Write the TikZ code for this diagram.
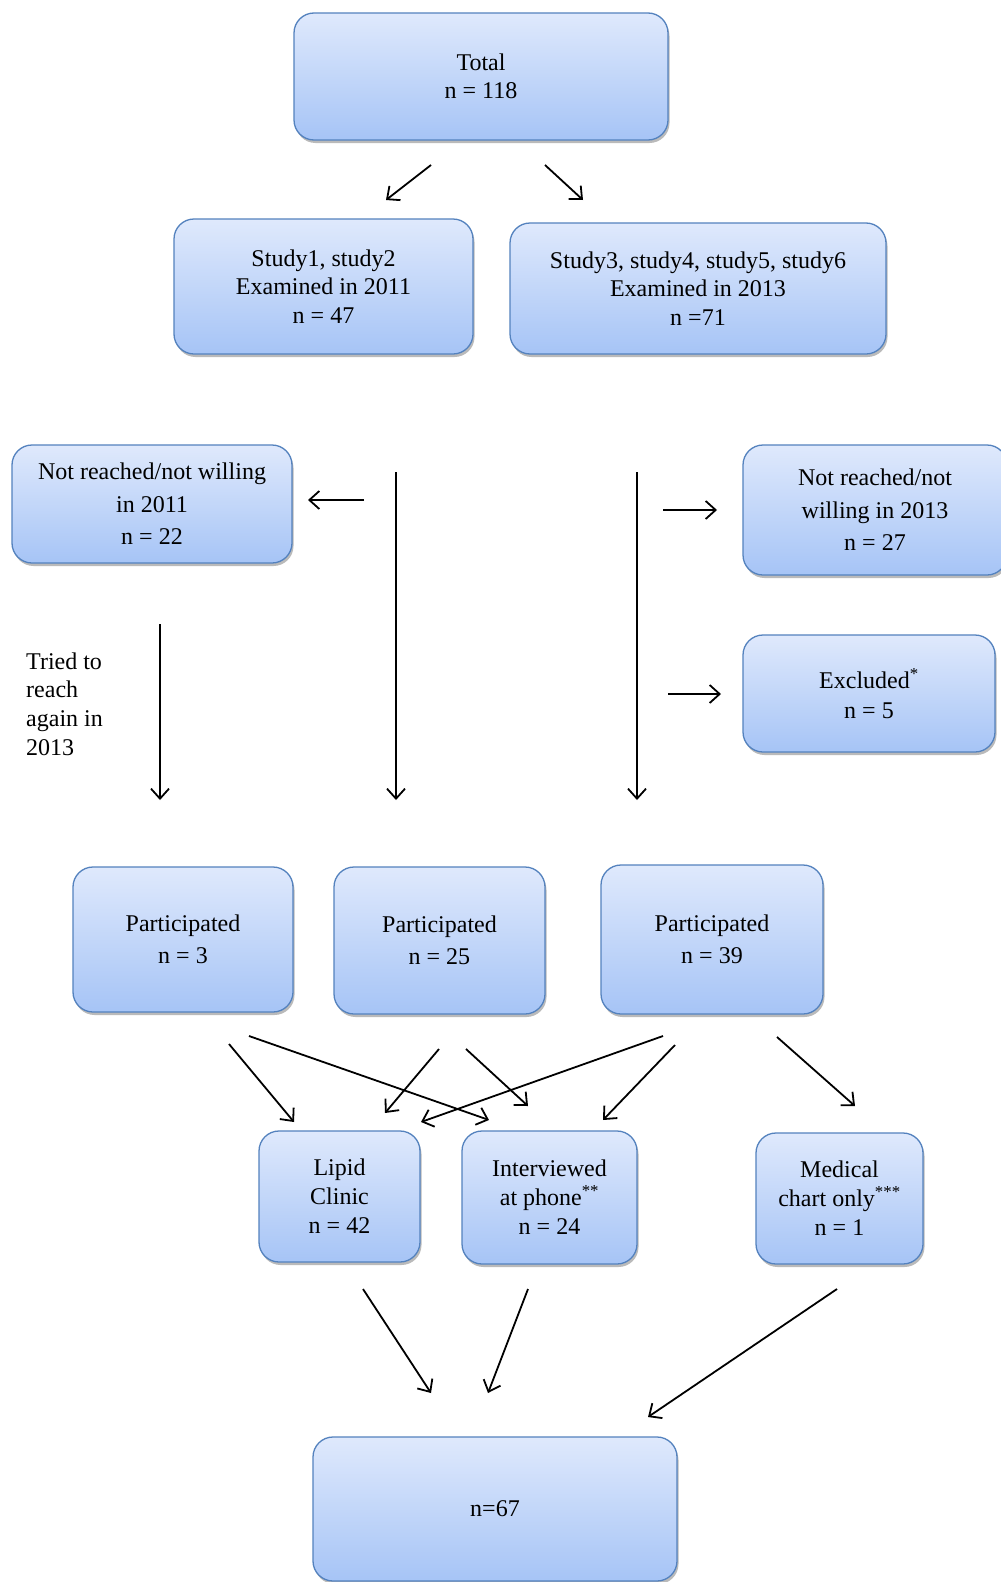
\documentclass[tikz,border=0pt]{standalone}
\usepackage{fontspec}
\setmainfont{Liberation Serif}
\usetikzlibrary{arrows.meta,shadows}
\definecolor{boxtop}{RGB}{223,233,252}
\definecolor{boxbot}{RGB}{166,196,246}
\definecolor{boxline}{RGB}{84,130,190}
\tikzset{
  box/.style={draw=boxline, line width=1.3pt, rounded corners=20pt,
    top color=boxtop, bottom color=boxbot, align=center, inner sep=0pt,
    font=\fontsize{24}{28.5}\selectfont,
    drop shadow={shadow xshift=1.5pt, shadow yshift=-3pt, fill=black!45, opacity=0.6}},
  wide/.style={font=\fontsize{24}{32.5}\selectfont},
  arr/.style={-{Straight Barb[length=10pt,width=18pt]}, line width=1.8pt},
}
\begin{document}
\begin{tikzpicture}[x=1pt,y=-1pt]
\useasboundingbox[fill=white] (0,0) rectangle (1001,1582);

% boxes
\node[box, minimum width=374pt, minimum height=127pt] (total) at (481,76.5) {Total\\n = 118};
\node[box, minimum width=299pt, minimum height=135pt] (s12) at (323.5,286.5) {Study1, study2\\Examined in 2011\\n = 47};
\node[box, minimum width=376pt, minimum height=131pt] (s36) at (698,288.5) {Study3, study4, study5, study6\\Examined in 2013\\n =71};
\node[box, wide, minimum width=280pt, minimum height=118pt] (nr11) at (152,504) {Not reached/not willing\\in 2011\\n = 22};
\node[box, wide, minimum width=264pt, minimum height=130pt] (nr13) at (875,510) {Not reached/not\\willing in 2013\\n = 27};
\node[box, font=\fontsize{24}{30}\selectfont, minimum width=252pt, minimum height=117pt] (excl) at (869,693.5) {Excluded\textsuperscript{*}\\n = 5};
\node[box, wide, minimum width=220pt, minimum height=145pt] (p3) at (183,939.5) {Participated\\n = 3};
\node[box, wide, minimum width=211pt, minimum height=147pt] (p25) at (439.5,940.5) {Participated\\n = 25};
\node[box, wide, minimum width=222pt, minimum height=149pt] (p39) at (712,939.5) {Participated\\n = 39};
\node[box, font=\fontsize{24}{29}\selectfont, minimum width=161pt, minimum height=131pt] (lipid) at (339.5,1196.5) {Lipid\\Clinic\\n = 42};
\node[box, font=\fontsize{24}{29}\selectfont, minimum width=175pt, minimum height=133pt] (intv) at (549.5,1197.5) {Interviewed\\at phone\textsuperscript{**}\\n = 24};
\node[box, font=\fontsize{24}{29}\selectfont, minimum width=167pt, minimum height=131pt] (med) at (839.5,1198.5) {Medical\\chart only\textsuperscript{***}\\n = 1};
\node[box, minimum width=364pt, minimum height=144pt] (final) at (495,1509) {n=67};

% side label
\node[anchor=west, align=left, inner sep=0pt, font=\fontsize{24}{28.6}\selectfont] (tried) at (26,704) {Tried to\\reach\\again in\\2013};

% arrow end points
\coordinate (a1s) at (431,165); \coordinate (a1e) at (386,200);
\coordinate (a2s) at (545,165); \coordinate (a2e) at (583,200);
\coordinate (a3s) at (364,500); \coordinate (a3e) at (308,500);
\coordinate (a4s) at (396,472); \coordinate (a4e) at (396,800);
\coordinate (a5s) at (160,624); \coordinate (a5e) at (160,800);
\coordinate (a6s) at (637,472); \coordinate (a6e) at (637,800);
\coordinate (a7s) at (663,510); \coordinate (a7e) at (717,510);
\coordinate (a8s) at (668,694); \coordinate (a8e) at (721,694);
\coordinate (b1s) at (229,1044); \coordinate (b1e) at (294,1122);
\coordinate (b2s) at (249,1036); \coordinate (b2e) at (489,1120);
\coordinate (b3s) at (439,1049); \coordinate (b3e) at (385,1113);
\coordinate (b4s) at (466,1049); \coordinate (b4e) at (528,1106);
\coordinate (b5s) at (663,1036); \coordinate (b5e) at (421,1122);
\coordinate (b6s) at (675,1045); \coordinate (b6e) at (603,1120);
\coordinate (b7s) at (777,1037); \coordinate (b7e) at (855,1106);
\coordinate (c1s) at (363,1289); \coordinate (c1e) at (431,1393);
\coordinate (c2s) at (528,1289); \coordinate (c2e) at (488,1393);
\coordinate (c3s) at (837,1289); \coordinate (c3e) at (648,1417);

\foreach \p in {a1,a2,a3,a4,a5,a6,a7,a8,b1,b2,b3,b4,b5,b6,b7,c1,c2,c3}
  \draw[arr] (\p s) -- (\p e);
\end{tikzpicture}
\end{document}
